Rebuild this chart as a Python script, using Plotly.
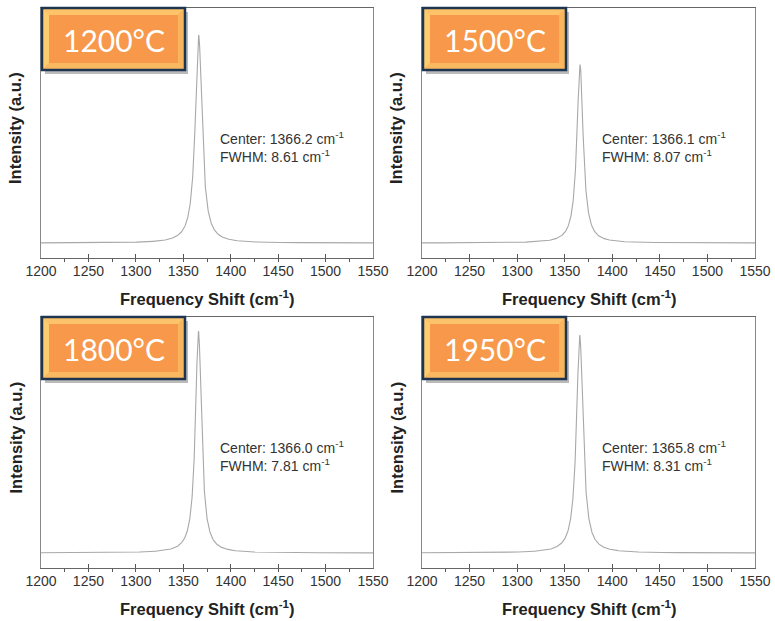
import numpy as np
import plotly.graph_objects as go

# Raman E2g peak of h-BN annealed at different temperatures (Lorentzian fits)
temperatures = ["1200°C", "1500°C", "1800°C", "1950°C"]
centers = [1366.2, 1366.1, 1366.0, 1365.8]      # cm^-1
fwhms = [8.61, 8.07, 7.81, 8.31]                # cm^-1
peak_heights = [0.892, 0.772, 0.944, 0.928]     # normalised intensity
baselines = [0.06, 0.06, 0.06, 0.06]

x_ticks = [1200, 1250, 1300, 1350, 1400, 1450, 1500, 1550]
x_range = [1200, 1550]

W, H = 775, 621

# panel rectangles in pixels: (left, top, right, bottom)
panels = [(41, 8, 373, 258), (422, 8, 755, 258),
          (41, 317, 373, 568), (422, 317, 755, 568)]


def px(x):
    return x / W


def py(y):
    return 1 - y / H


title_font = dict(family="Liberation Sans, Arial", size=16.5, color="#222", weight="bold")

fig = go.Figure()
x = np.linspace(x_range[0], x_range[1], 1751)

for i, (l, t, r, b) in enumerate(panels):
    n = "" if i == 0 else str(i + 1)
    hw = fwhms[i] / 2
    y = baselines[i] + (peak_heights[i] - baselines[i]) * hw**2 / ((x - centers[i]) ** 2 + hw**2)
    fig.add_trace(go.Scatter(x=x, y=y, mode="lines", xaxis="x" + n, yaxis="y" + n,
                             line=dict(color="#a8a8a8", width=1.1),
                             showlegend=False, hoverinfo="skip"))
    fig.layout["xaxis" + n] = dict(
        domain=[px(l), px(r)], anchor="y" + n, range=x_range, automargin=False,
        tickvals=x_ticks, ticks="inside", ticklen=4, tickcolor="#555",
        minor=dict(dtick=25, tick0=1200, ticks="outside", ticklen=3, tickcolor="#555"),
        showline=True, linecolor="#666", linewidth=1, mirror=True,
        showgrid=False, zeroline=False,
        tickfont=dict(family="Liberation Sans, Arial", size=14, color="#333"),
    )
    fig.layout["yaxis" + n] = dict(
        domain=[py(b), py(t)], anchor="x" + n, range=[0, 1], automargin=False,
        showticklabels=False, ticks="", showgrid=False, zeroline=False,
        showline=True, linecolor="#888", linewidth=1, mirror=True,
    )

    # axis titles
    fig.add_annotation(
        xref="paper", yref="paper", x=px((l + r) / 2), y=py(b + 40),
        xanchor="center", yanchor="middle", showarrow=False,
        text="Frequency Shift (cm<sup>-1</sup>)", font=title_font,
    )
    fig.add_annotation(
        xref="paper", yref="paper", x=px(l - 26), y=py((t + b) / 2 - 5),
        xanchor="center", yanchor="middle", showarrow=False, textangle=-90,
        text="Intensity (a.u.)", font=title_font,
    )

    # fit result text
    fig.add_annotation(
        xref="x" + n, yref="paper", x=1387, y=py(t + 139),
        xanchor="left", yanchor="middle", showarrow=False, align="left",
        text="Center: %.1f cm<sup>-1</sup><br>FWHM: %.2f cm<sup>-1</sup>" % (centers[i], fwhms[i]),
        font=dict(family="Liberation Sans, Arial", size=14, color="#333"),
    )

    # temperature badge: bevelled orange box with dark border and shadow
    bl, bt = l + 1, t
    br, bb = bl + 143, bt + 62
    ins = 7
    fig.add_shape(type="rect", xref="paper", yref="paper",
                  x0=px(bl + 3), x1=px(br + 3), y0=py(bb + 4), y1=py(bt + 4),
                  fillcolor="rgba(60,60,60,0.35)", line_width=0, layer="above")
    fig.add_shape(type="rect", xref="paper", yref="paper",
                  x0=px(bl), x1=px(br), y0=py(bb), y1=py(bt),
                  fillcolor="#fbb65c", line_width=0, layer="above")
    bevels = [
        ([(bl, bt), (br, bt), (br - ins, bt + ins), (bl + ins, bt + ins)], "#fcc36a"),   # top
        ([(bl, bt), (bl + ins, bt + ins), (bl + ins, bb - ins), (bl, bb)], "#fdcc6e"),   # left
        ([(br, bt), (br, bb), (br - ins, bb - ins), (br - ins, bt + ins)], "#f9b55e"),   # right
        ([(bl, bb), (bl + ins, bb - ins), (br - ins, bb - ins), (br, bb)], "#fab860"),   # bottom
    ]
    for pts, col in bevels:
        path = "M " + " L ".join("%f,%f" % (px(a), py(c)) for a, c in pts) + " Z"
        fig.add_shape(type="path", xref="paper", yref="paper", path=path,
                      fillcolor=col, line_width=0, layer="above")
    fig.add_shape(type="rect", xref="paper", yref="paper",
                  x0=px(bl + ins), x1=px(br - ins), y0=py(bb - ins), y1=py(bt + ins),
                  fillcolor="#f7984a", line_width=0, layer="above")
    fig.add_shape(type="rect", xref="paper", yref="paper",
                  x0=px(bl), x1=px(br), y0=py(bb), y1=py(bt),
                  fillcolor="rgba(0,0,0,0)", line=dict(color="#1e3552", width=2.5), layer="above")
    fig.add_annotation(
        xref="paper", yref="paper", x=px((bl + br) / 2), y=py((bt + bb) / 2 + 1),
        xanchor="center", yanchor="middle", showarrow=False,
        text=temperatures[i],
        font=dict(family="Lato, Open Sans", size=30, color="white"),
    )

fig.update_layout(
    width=W, height=H,
    margin=dict(l=0, r=0, t=0, b=0, autoexpand=False),
    paper_bgcolor="white", plot_bgcolor="white",
    showlegend=False,
)

fig.write_html("out.html")
